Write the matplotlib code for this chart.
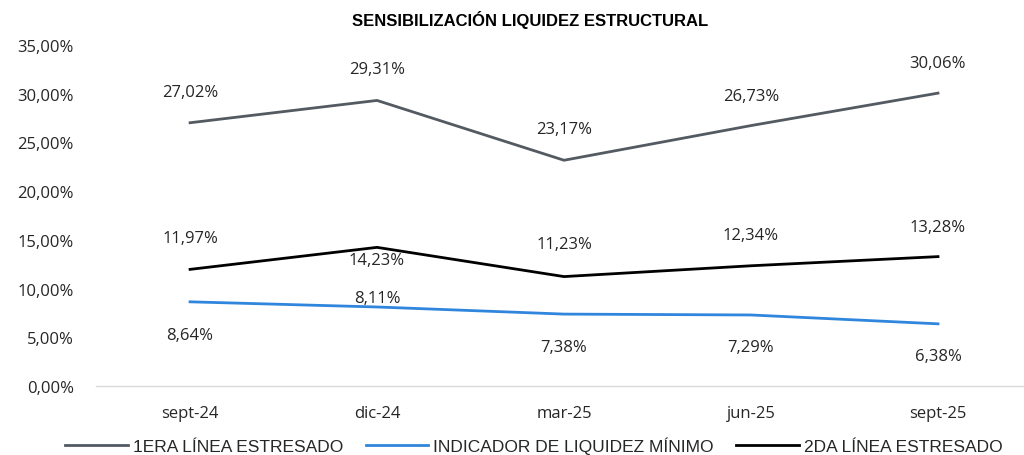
import matplotlib
matplotlib.use("Agg")
from matplotlib import pyplot as plt
from matplotlib import font_manager

periodos = ['sept-24', 'dic-24', 'mar-25', 'jun-25', 'sept-25']
primeraLinea = [27.02, 29.31, 23.17, 26.73, 30.06]
indicadorMinimo = [8.64, 8.11, 7.38, 7.29, 6.38]
segundaLinea = [11.97, 14.23, 11.23, 12.34, 13.28]

# offsets of the data labels in pixels (positive = above)
offPrimera = [31, 31, 31, 30, 30]
offIndicador = [-33, 9, -33, -32, -32]
offSegunda = [31, -13, 33, 31, 30]


def fmt(v):
    return f'{v:.2f}'.replace('.', ',') + '%'


instaladas = {f.name for f in font_manager.fontManager.ttflist}
narrow = 'Liberation Sans Narrow' if 'Liberation Sans Narrow' in instaladas else 'Liberation Sans'
condensada = [narrow, 'DejaVu Sans']

plt.rcParams['font.family'] = ['Open Sans', 'DejaVu Sans']

fig = plt.figure(figsize=(10.24, 4.56), dpi=100)
ax = fig.add_axes([96 / 1024, 69 / 456, (1024 - 96) / 1024, (387 - 46) / 456])
x = list(range(len(periodos)))

series = [
    (primeraLinea, '#545a62', '1ERA LÍNEA ESTRESADO', offPrimera),
    (indicadorMinimo, '#2f86dc', 'INDICADOR DE LIQUIDEZ MÍNIMO', offIndicador),
    (segundaLinea, '#000000', '2DA LÍNEA ESTRESADO', offSegunda),
]
for valores, color, nombre, offsets in series:
    ax.plot(x, valores, color=color, linewidth=2.0, label=nombre)
    for xi, v, off in zip(x, valores, offsets):
        ax.annotate(fmt(v), (xi, v), xytext=(0, off * 0.72), textcoords='offset points',
                    ha='center', va='center', fontsize=12, color='#262626')

ax.set_xlim(-0.503, 4.46)
ax.set_ylim(0, 35)
ax.set_yticks([0, 5, 10, 15, 20, 25, 30, 35])
ax.set_yticklabels([fmt(t) for t in [0, 5, 10, 15, 20, 25, 30, 35]])
ax.set_xticks(x)
ax.set_xticklabels(periodos)
for s in ['top', 'right', 'left']:
    ax.spines[s].set_visible(False)
ax.spines['bottom'].set_color('#d9d9d9')
ax.spines['bottom'].set_linewidth(1.0)
ax.tick_params(axis='both', length=0, labelsize=12, colors='#262626')
ax.tick_params(axis='y', pad=16)
ax.tick_params(axis='x', pad=14)

fig.text(530 / 1024, 1 - 20 / 456, 'SENSIBILIZACIÓN LIQUIDEZ ESTRUCTURAL', ha='center', va='center',
         fontsize=12, fontweight='bold', family=condensada, color='black')

fig.legend(loc='center', bbox_to_anchor=(534 / 1024, 1 - 446 / 456), ncol=3, frameon=False,
           prop={'family': condensada, 'size': 12.5}, handlelength=3.6, columnspacing=1.3,
           handletextpad=0.3, labelcolor='#262626')

fig.savefig('out.png', dpi=100)
